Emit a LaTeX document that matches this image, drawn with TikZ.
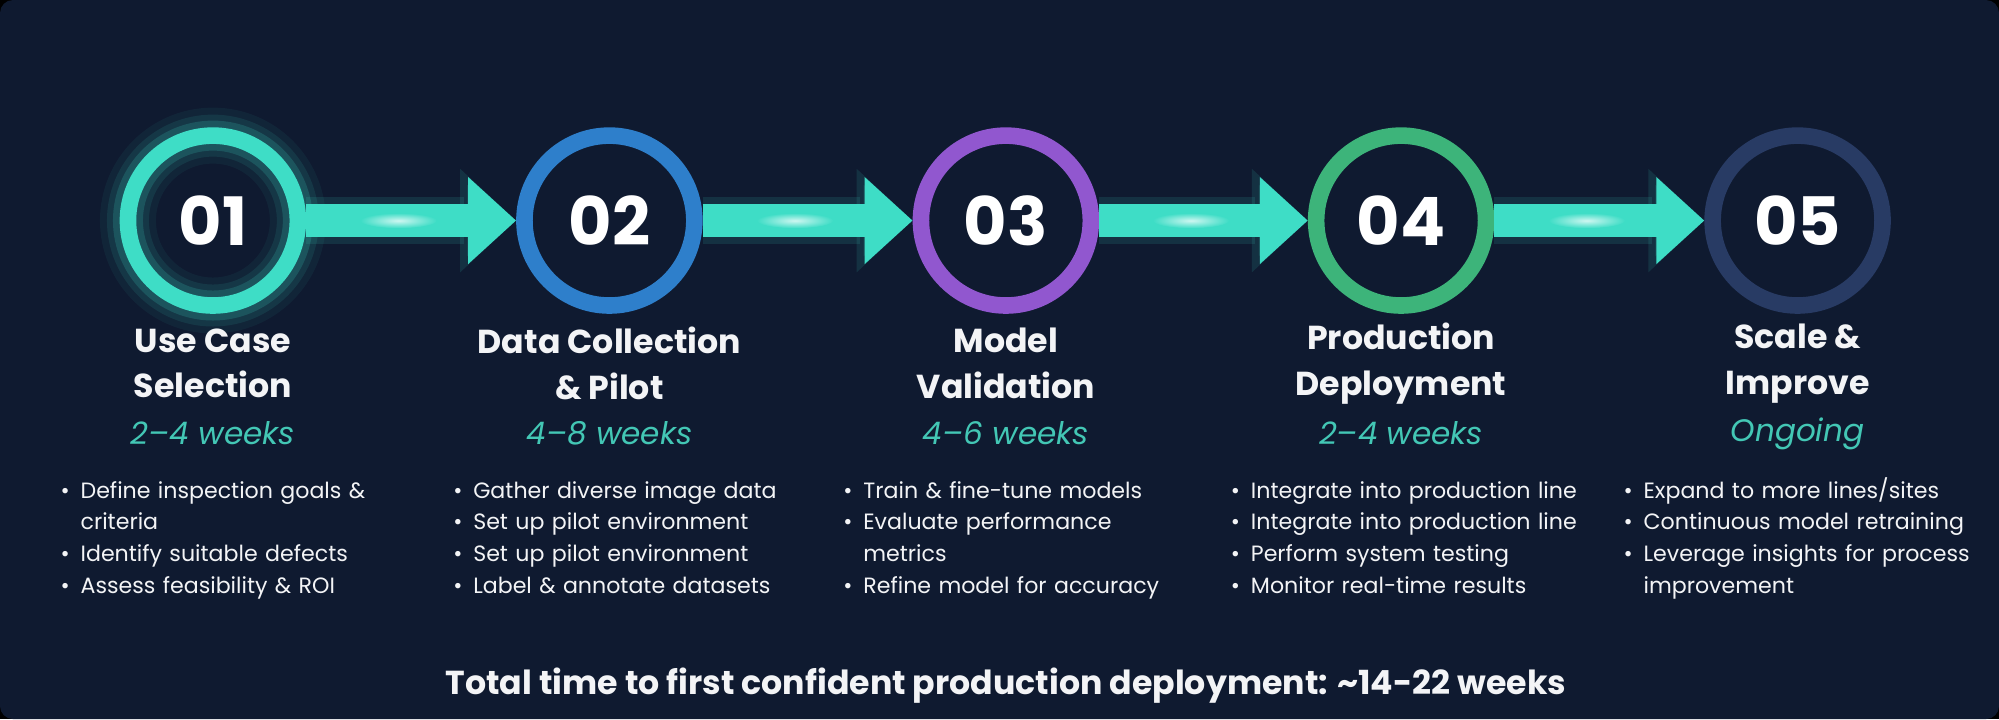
\documentclass[tikz,border=0pt]{standalone}
\usepackage{fontspec}
\setmainfont{Poppins}
\usetikzlibrary{arrows.meta,calc}

\definecolor{bgnavy}{HTML}{0F1A30}
\definecolor{teal1}{HTML}{3EDDC6}
\definecolor{blue2}{HTML}{2E7FCB}
\definecolor{purple3}{HTML}{9157CF}
\definecolor{green4}{HTML}{3DB47A}
\definecolor{slate5}{HTML}{283B64}
\definecolor{weekc}{HTML}{43C7B5}
\definecolor{textc}{HTML}{F3F4F6}

\hyphenpenalty=10000\relax
\newcommand{\bitem}[1]{\par\hangindent=0.2cm\hangafter=1\noindent\makebox[0.2cm][l]{\textbullet}#1\par}

\begin{document}
\begin{tikzpicture}[x=0.01275cm,y=-0.01275cm,
    ring/.style={circle, draw=#1, line width=0.166cm, minimum size=1.70cm, inner sep=0pt, text=white, font=\fontsize{19}{21}\selectfont\bfseries},
    glow/.style={preaction={draw=#1, opacity=0.06, line width=0.56cm}, preaction={draw=#1, opacity=0.1, line width=0.42cm}, preaction={draw=#1, opacity=0.18, line width=0.3cm}},
    flow/.style={draw=teal1, line width=0.33cm, -{Triangle[length=0.48cm,width=0.84cm]}},
    flowglow/.style={draw=teal1, opacity=0.12, line width=0.47cm, -{Triangle[length=0.56cm,width=1.0cm]}},
    title/.style={align=center, text=textc, font=\fontsize{9.45}{13}\selectfont\bfseries},
    weeks/.style={text=weekc, font=\fontsize{8.85}{11}\selectfont\itshape},
    bullets/.style={anchor=north west, text width=4.2cm, align=left, text=textc, inner sep=0pt, font=\fontsize{6.3}{9.1}\selectfont}
]
    % Background
    \useasboundingbox (0,0) rectangle (1568,564);
    \fill[black] (0,0) rectangle (1568,564);
    \fill[bgnavy, rounded corners=0.13cm] (0,0) rectangle (1568,564);

    % Draw the step circles
    \node[ring=teal1, glow=teal1] (c1) at (167,173) {01};
    \foreach \i/\x/\c in {2/478/blue2, 3/789/purple3, 4/1099/green4, 5/1410/slate5} {
        \node[ring=\c] (c\i) at (\x,173) {0\i};
    }

    % Arrows between the steps
    \foreach \i in {1,...,4} {
        \pgfmathtruncatemacro{\j}{\i+1}
        \draw[flowglow] (c\i) -- (c\j);
        \draw[flow] (c\i) -- (c\j);
        \shade[inner color=white!75!teal1, outer color=teal1] ($(c\i.east)!0.44!(c\j.west)$) ellipse (30 and 6);
    }

    % Step titles and durations
    \node[title] (t1) at (167,285) {Use Case\\Selection};
    \node[title] (t2) at (478,285) {Data Collection\\\& Pilot};
    \node[title] (t3) at (789,285) {Model\\Validation};
    \node[title] (t4) at (1099,285) {Production\\Deployment};
    \node[title] (t5) at (1410,285) {Scale \&\\Improve};

    \node[weeks] (w1) at (167,340) {2--4 weeks};
    \node[weeks] (w2) at (478,340) {4--8 weeks};
    \node[weeks] (w3) at (789,340) {4--6 weeks};
    \node[weeks] (w4) at (1099,340) {2--4 weeks};
    \node[weeks] (w5) at (1410,340) {Ongoing};

    % Task lists
    \node[bullets] (b1) at (47,365) {\bitem{Define inspection goals \&\break criteria}\bitem{Identify suitable defects}\bitem{Assess feasibility \& ROI}};
    \node[bullets] (b2) at (355,365) {\bitem{Gather diverse image data}\bitem{Set up pilot environment}\bitem{Set up pilot environment}\bitem{Label \& annotate datasets}};
    \node[bullets] (b3) at (661,365) {\bitem{Train \& fine-tune models}\bitem{Evaluate performance\break metrics}\bitem{Refine model for accuracy}};
    \node[bullets] (b4) at (965,365) {\bitem{Integrate into production line}\bitem{Integrate into production line}\bitem{Perform system testing}\bitem{Monitor real-time results}};
    \node[bullets] (b5) at (1273,365) {\bitem{Expand to more lines/sites}\bitem{Continuous model retraining}\bitem{Leverage insights for process\break improvement}};

    % Total time
    \node[text=textc, font=\fontsize{9.45}{11}\selectfont\bfseries] (total) at (789,538) {Total time to first confident production deployment: \textasciitilde14-22 weeks};
\end{tikzpicture}
\end{document}
